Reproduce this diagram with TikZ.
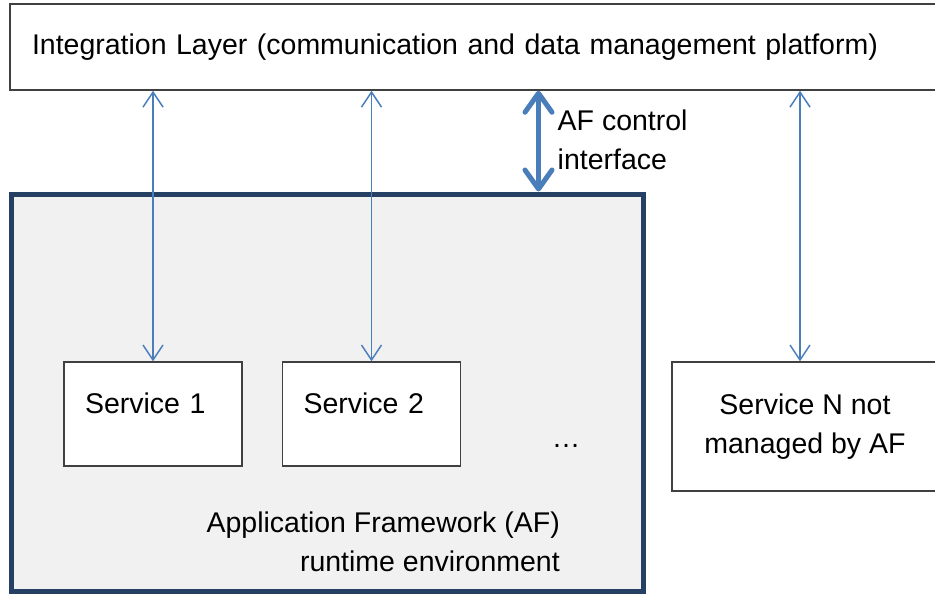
\documentclass[tikz,border=0pt]{standalone}
\usepackage{fontspec}
\setmainfont{Liberation Sans}
\usepackage{xcolor}
\usepackage{tikz}
\usetikzlibrary{arrows.meta, positioning, calc}
\definecolor{linkblue}{RGB}{74, 126, 187}
\definecolor{afnavy}{RGB}{38, 64, 100}
\definecolor{afback}{RGB}{241, 241, 241}
\definecolor{boxline}{RGB}{64, 64, 64}
\tikzset{
    bigfont/.style={font=\fontsize{28.5}{39}\selectfont},
    layerbox/.style={rectangle, draw=boxline, fill=white, line width=1.5pt, inner xsep=22pt, inner ysep=0pt, align=left, bigfont},
    frame/.style={rectangle, draw=afnavy, fill=afback, line width=5pt, inner sep=0pt},
    servicebox/.style={rectangle, draw=boxline, fill=white, line width=1.3pt, minimum width=178pt, minimum height=104pt, inner xsep=21pt, inner ysep=0pt, text width=136pt, text height=51pt, text depth=53pt, align=left, bigfont},
    outerbox/.style={rectangle, draw=boxline, fill=white, line width=1.3pt, minimum width=266pt, minimum height=129pt, align=center, bigfont},
    note/.style={inner sep=0pt, bigfont},
    link/.style={draw=linkblue, line width=1.5pt, {Straight Barb[length=15pt, width=20pt]}-{Straight Barb[length=15pt, width=20pt]}},
    ctrllink/.style={draw=linkblue, line width=5pt, {Straight Barb[length=19pt, width=27pt, round]}-{Straight Barb[length=19pt, width=27pt, round]}}
}

\begin{document}
\begin{tikzpicture}[x=1pt, y=-1pt]
        \useasboundingbox (0,0) rectangle (935,594);

        \node [layerbox, text width=884pt, minimum height=86pt] (layer) at (474,47) {Integration Layer (communication and data management platform)};

        \node [frame, minimum width=632pt, minimum height=397pt] (af) at (327,392.5) {};

        \node [servicebox] (s1) at (153,414) {Service 1};
        \node [servicebox] (s2) at (371.5,414) {Service 2};
        \node [note, anchor=base] (dots) at (566,447) {\ldots};
        \node [outerbox] (sN) at (805,426.5) {Service N not\\managed by AF};

        \node [note, anchor=north east, align=right] (aflabel) at (560,512) {Application Framework (AF)\\runtime environment};

        \coordinate (ctrl) at (538.5,0);
        \coordinate (nlink) at (800,0);
        \node [note, anchor=north west, align=left] (ctrllabel) at (557.5,110) {AF control\\interface};

        % Draws
        \draw [link] (s1.north) -- (s1.north |- layer.south);
        \draw [link] (s2.north) -- (s2.north |- layer.south);
        \draw [link] (nlink |- sN.north) -- (nlink |- layer.south);
        \draw [ctrllink] (ctrl |- layer.south) -- (ctrl |- af.north);

\end{tikzpicture}
\end{document}
